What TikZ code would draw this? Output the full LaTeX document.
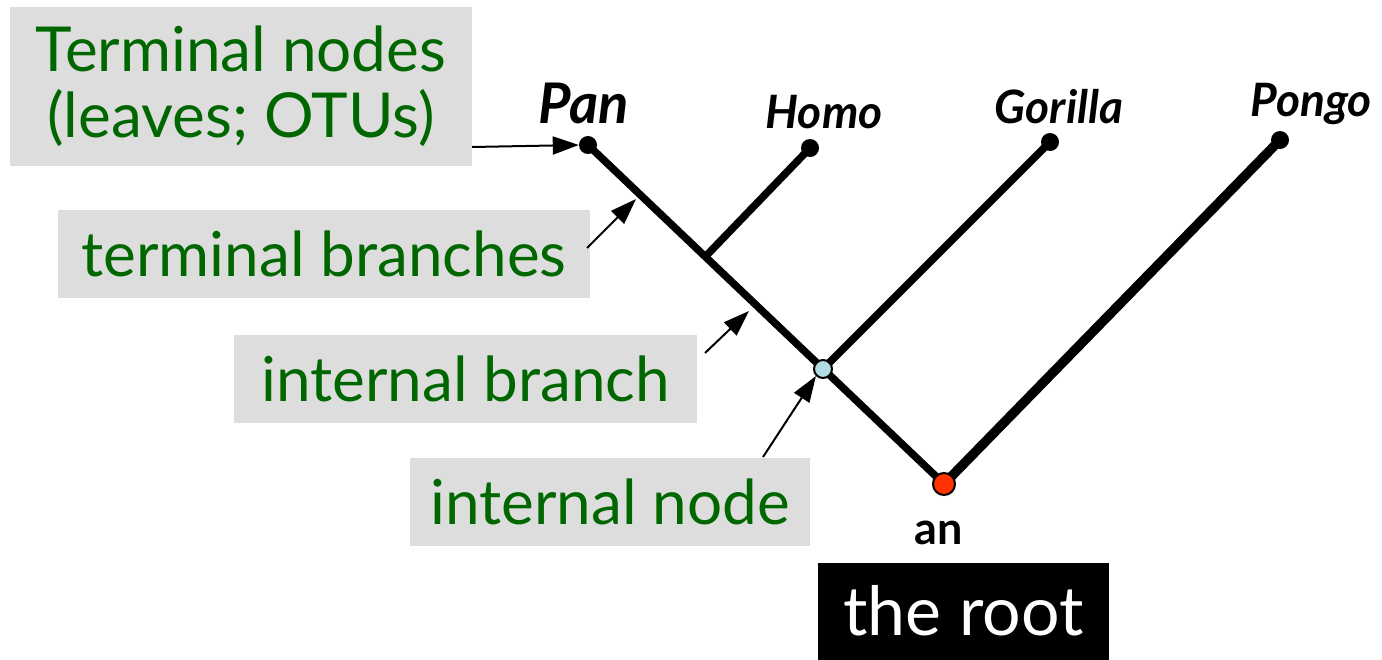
\documentclass[tikz,border=0pt]{standalone}
\usepackage{fontspec}
\setmainfont{Lato}
\usetikzlibrary{arrows.meta}
\definecolor{lblgreen}{RGB}{0,102,0}
\definecolor{boxgray}{RGB}{221,221,221}
\definecolor{inblue}{RGB}{176,220,226}
\definecolor{rootred}{RGB}{255,51,0}
\tikzset{
  lbl/.style={fill=boxgray, text=lblgreen, inner sep=0pt, align=center,
    font=\fontsize{62}{66}\selectfont},
  taxon/.style={font=\bfseries\itshape\fontsize{46}{50}\selectfont, inner sep=0pt},
  leafdot/.style={circle, fill=black, inner sep=0pt, minimum size=18pt},
  branch/.style={line width=7.5pt},
  pointer/.style={line width=2pt, arrows={-Triangle[length=26pt,width=18pt]}},
}
\begin{document}
\begin{tikzpicture}[x=1pt,y=-1pt]
\useasboundingbox (0,0) rectangle (1382,659);
% label boxes
\node[lbl, minimum width=462pt, minimum height=159pt] (tn) at (241,86) {Terminal nodes\\(leaves; OTUs)};
\node[lbl, minimum width=532pt, minimum height=88pt] (tb) at (324,254) {terminal branches};
\node[lbl, minimum width=463pt, minimum height=88pt] (ib) at (465.5,379) {internal branch};
\node[lbl, minimum width=400pt, minimum height=88pt] (in) at (610,502) {internal node};
\node[fill=black, text=white, inner sep=0pt, minimum width=291pt, minimum height=97pt,
  font=\fontsize{68}{72}\selectfont] (rootbox) at (963.5,611) {the root};
\node[font=\bfseries\fontsize{45}{48}\selectfont, inner sep=0pt] (an) at (939,533) {an};
% tree nodes
\node[leafdot] (pan) at (588,145) {};
\node[leafdot] (homo) at (810,148) {};
\node[leafdot] (gor) at (1050,142) {};
\node[leafdot] (pon) at (1280,140) {};
\coordinate (hj) at (705,257);
\coordinate (tbt) at (636,199);
\coordinate (ibt) at (749,311);
% branches
\draw[branch] (pan.center) -- (944,484) coordinate (rt);
\draw[branch] (hj) -- (homo.center);
\draw[branch] (823,369) coordinate (int) -- (gor.center);
\draw[line width=9.5pt] (rt) -- (pon.center);
\node[circle, draw=black, line width=2pt, fill=inblue, inner sep=0pt, minimum size=18pt] (intn) at (int) {};
\node[circle, draw=black, line width=2pt, fill=rootred, inner sep=0pt, minimum size=22pt] (rootn) at (rt) {};
% taxa labels
\node[taxon, font=\bfseries\itshape\fontsize{56}{60}\selectfont] (panl) at (584,103) {Pan};
\node[taxon] (homol) at (824,112) {Homo};
\node[taxon] (gorl) at (1059,107) {Gorilla};
\node[taxon] (ponl) at (1311,104) {Pongo};
% pointers
\draw[pointer] (tn.east |- 0,147) -- (pan.west);
\draw[pointer] (587,248) -- (tbt);
\draw[pointer] (705,353) -- (ibt);
\draw[pointer] (763,457) -- (intn.south west);
\end{tikzpicture}
\end{document}
